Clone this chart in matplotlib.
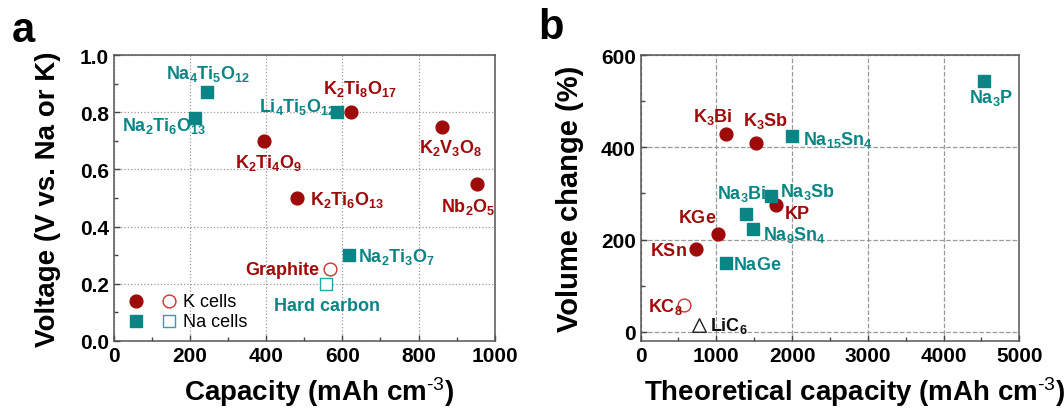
import matplotlib
matplotlib.use("Agg")
import matplotlib.pyplot as plt
from matplotlib.legend_handler import HandlerTuple
from matplotlib.ticker import MultipleLocator, FormatStrFormatter

plt.rcParams['font.family'] = ['Liberation Sans', 'DejaVu Sans']
plt.rcParams['mathtext.fontset'] = 'custom'
plt.rcParams['mathtext.rm'] = 'Liberation Sans'
plt.rcParams['mathtext.bf'] = 'Liberation Sans:bold'
plt.rcParams['mathtext.it'] = 'Liberation Sans:italic'

RED = '#9e0a0a'
TEAL = '#0a8585'

# ---- panel a: capacity (mAh cm-3) vs voltage ----
a_k_names = ['K_2Ti_4O_9', 'K_2Ti_8O_{17}', 'K_2Ti_6O_{13}', 'K_2V_3O_8', 'Nb_2O_5']
a_k_cap = [395, 623, 482, 862, 954]
a_k_volt = [0.70, 0.80, 0.50, 0.75, 0.55]

a_k_open_names = ['Graphite']
a_k_open_cap = [567]
a_k_open_volt = [0.25]

a_na_names = ['Na_2Ti_6O_{13}', 'Na_4Ti_5O_{12}', 'Li_4Ti_5O_{12}', 'Na_2Ti_3O_7']
a_na_cap = [212, 245, 586, 618]
a_na_volt = [0.78, 0.87, 0.80, 0.30]

a_na_open_names = ['Hard carbon']
a_na_open_cap = [556]
a_na_open_volt = [0.20]

# label anchors (left edge, baseline)
a_k_lab = [(318, 0.608), (548, 0.867), (516, 0.479), (801, 0.661), (860, 0.455)]
a_k_open_lab = [(344, 0.234)]
a_na_lab = [(21, 0.738), (136, 0.92), (381, 0.804), (641, 0.28)]
a_na_open_lab = [(420, 0.108)]

# ---- panel b: theoretical capacity vs volume change ----
b_k_names = ['K_3Bi', 'K_3Sb', 'KP', 'KGe', 'KSn']
b_k_cap = [1124, 1521, 1786, 1023, 728]
b_k_vol = [429, 409, 275, 212, 179]

b_k_open_names = ['KC_8']
b_k_open_cap = [573]
b_k_open_vol = [58]

b_na_names = ['Na_3P', 'Na_{15}Sn_4', 'Na_3Sb', 'Na_3Bi', 'Na_9Sn_4', 'NaGe']
b_na_cap = [4528, 1993, 1728, 1389, 1490, 1124]
b_na_vol = [545, 424, 295, 255, 223, 150]

b_li_names = ['LiC_6']
b_li_cap = [767]
b_li_vol = [14]

b_k_lab = [(692, 458), (1354, 448), (1892, 246), (494, 237), (128, 166)]
b_k_open_lab = [(97, 46)]
b_na_lab = [(4330, 499), (2147, 407), (1839, 295), (1010, 291), (1618, 202), (1221, 137)]
b_li_lab = [(913, 4)]


def mt(s):
    # chemical formula as bold mathtext
    return r'$\mathbf{' + s + '}$'


def put_labels(ax, names, pos, color, fs=13):
    for n, (x, y) in zip(names, pos):
        ax.text(x, y, mt(n), color=color, fontsize=fs, ha='left', va='baseline')


def style(ax, ls):
    ax.grid(True, which='major', linestyle=ls, color='#9a9a9a', linewidth=0.9)
    ax.set_axisbelow(True)
    ax.tick_params(which='both', direction='in', top=False, right=False,
                   labelsize=15, width=1, color='#444444')
    ax.tick_params(which='major', length=4)
    ax.tick_params(which='minor', length=3)
    for sp in ax.spines.values():
        sp.set_color('#555555')
        sp.set_linewidth(1.1)
    for t in ax.get_xticklabels() + ax.get_yticklabels():
        t.set_fontweight('bold')


fig = plt.figure(figsize=(10.64, 4.10), dpi=100)
ax1 = fig.add_axes([0.107, 0.166, 0.358, 0.697])
ax2 = fig.add_axes([0.602, 0.166, 0.356, 0.697])

# panel a
h1 = ax1.scatter(a_k_cap, a_k_volt, s=85, marker='o', color=RED, zorder=3)
h2 = ax1.scatter(a_k_open_cap, a_k_open_volt, s=85, marker='o', facecolor='white',
                 edgecolor='#d03030', linewidth=1.0, zorder=3)
h3 = ax1.scatter(a_na_cap, a_na_volt, s=80, marker='s', color=TEAL, zorder=3)
h4 = ax1.scatter(a_na_open_cap, a_na_open_volt, s=80, marker='s', facecolor='white',
                 edgecolor='#20a8a8', linewidth=1.0, zorder=3)

put_labels(ax1, a_k_names, a_k_lab, RED)
put_labels(ax1, a_na_names, a_na_lab, TEAL)
for n, (x, y) in zip(a_k_open_names, a_k_open_lab):
    ax1.text(x, y, n, color=RED, fontsize=13, fontweight='bold')
for n, (x, y) in zip(a_na_open_names, a_na_open_lab):
    ax1.text(x, y, n, color=TEAL, fontsize=13, fontweight='bold')

ax1.set_xlim(0, 1000)
ax1.set_ylim(0, 1.0)
ax1.xaxis.set_major_locator(MultipleLocator(200))
ax1.xaxis.set_minor_locator(MultipleLocator(100))
ax1.yaxis.set_major_locator(MultipleLocator(0.2))
ax1.yaxis.set_minor_locator(MultipleLocator(0.1))
ax1.yaxis.set_major_formatter(FormatStrFormatter('%.1f'))
style(ax1, ':')
ax1.set_xlabel('Capacity (mAh cm$^{\\mathrm{‐3}}$)', fontsize=20, fontweight='bold')
ax1.xaxis.set_label_coords(0.54, -0.115)
ax1.xaxis.label.set_va('top')
ax1.set_ylabel('Voltage (V vs. Na or K)', fontsize=20, fontweight='bold')
ax1.yaxis.set_label_coords(-0.138, 0.5)

ax1.legend(handles=[(h1, h2), (h3, h4)], labels=['K cells', 'Na cells'],
           handler_map={tuple: HandlerTuple(ndivide=None, pad=1.1)},
           loc='lower left', bbox_to_anchor=(0.0, -0.018), frameon=False,
           handlelength=2.5, handletextpad=0.45, labelspacing=0.15,
           prop={'size': 13})

# panel b
ax2.scatter(b_k_cap, b_k_vol, s=85, marker='o', color=RED, zorder=3)
ax2.scatter(b_k_open_cap, b_k_open_vol, s=85, marker='o', facecolor='white',
            edgecolor='#d03030', linewidth=1.0, zorder=3)
ax2.scatter(b_na_cap, b_na_vol, s=80, marker='s', color=TEAL, zorder=3)
ax2.scatter(b_li_cap, b_li_vol, s=95, marker='^', facecolor='white',
            edgecolor='#222222', linewidth=1.0, zorder=3)

put_labels(ax2, b_k_names, b_k_lab, RED)
put_labels(ax2, b_k_open_names, b_k_open_lab, RED)
put_labels(ax2, b_na_names, b_na_lab, TEAL)
put_labels(ax2, b_li_names, b_li_lab, '#111111')

ax2.set_xlim(0, 5000)
ax2.set_ylim(-20, 600)
ax2.xaxis.set_major_locator(MultipleLocator(1000))
ax2.xaxis.set_minor_locator(MultipleLocator(500))
ax2.yaxis.set_major_locator(MultipleLocator(200))
ax2.yaxis.set_minor_locator(MultipleLocator(100))
style(ax2, '--')
ax2.set_xlabel('Theoretical capacity (mAh cm$^{\\mathrm{‐3}}$)', fontsize=20,
               fontweight='bold')
ax2.xaxis.set_label_coords(0.565, -0.115)
ax2.xaxis.label.set_va('top')
ax2.set_ylabel('Volume change (%)', fontsize=21, fontweight='bold')
ax2.yaxis.set_label_coords(-0.148, 0.5)

fig.text(0.011, 0.898, 'a', fontsize=30, fontweight='bold')
fig.text(0.506, 0.905, 'b', fontsize=30, fontweight='bold')

fig.savefig('out.png', dpi=100)
